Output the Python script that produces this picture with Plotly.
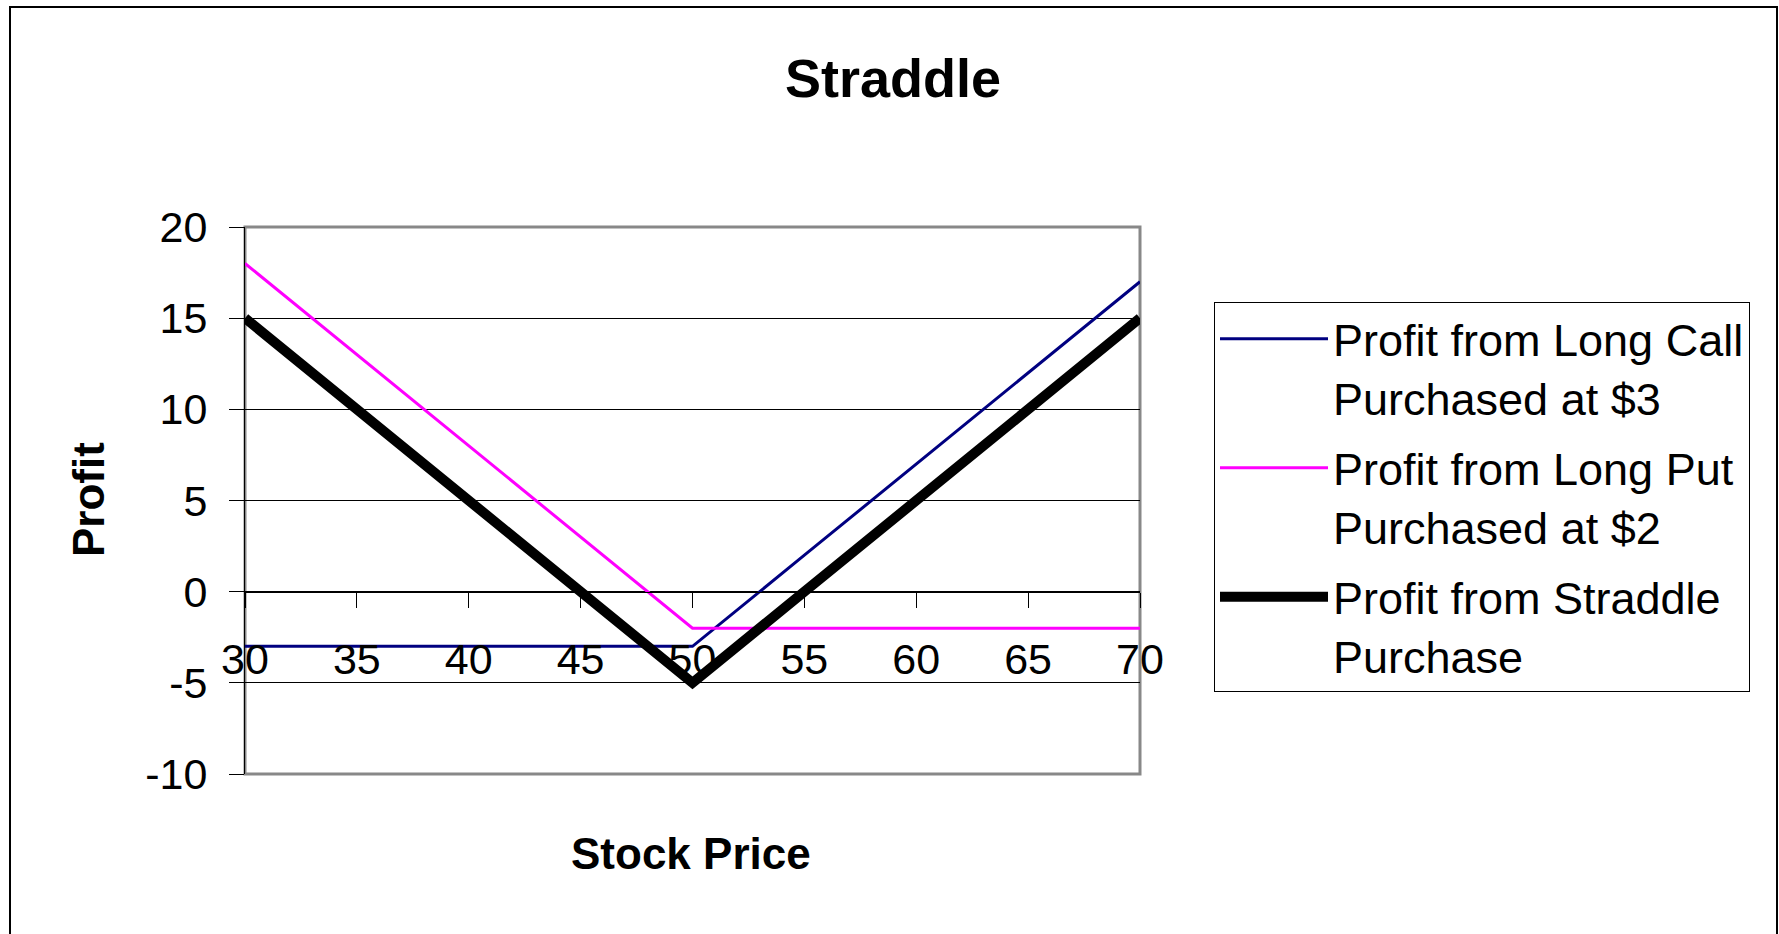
import plotly.graph_objects as go

# Stock prices at expiry and the profit of each position
stock_price = [30, 35, 40, 45, 50, 55, 60, 65, 70]
call_profit = [-3, -3, -3, -3, -3, 2, 7, 12, 17]
put_profit = [18, 13, 8, 3, -2, -2, -2, -2, -2]
straddle_profit = [15, 10, 5, 0, -5, 0, 5, 10, 15]

series_names = [
    "Profit from Long Call<br>Purchased at $3",
    "Profit from Long Put<br>Purchased at $2",
    "Profit from Straddle<br>Purchase",
]

y_ticks = [-10, -5, 0, 5, 10, 15, 20]
y_tick_labels = ["-10", "-5", "0", "5", "10", "15", "20"]
x_ticks = [30, 35, 40, 45, 50, 55, 60, 65, 70]

W, H = 1779, 934
L, R, T, B = 245, 1140, 227, 774  # plot area in pixels
PW, PH = R - L, B - T

def px_x(p):
    return (p - L) / PW

def px_y(p):
    return (B - p) / PH

FONT = "Liberation Sans, Arial, sans-serif"

fig = go.Figure()
fig.add_trace(go.Scatter(x=stock_price, y=call_profit, mode="lines", name=series_names[0],
                         legendgroup="call", line=dict(color="#000080", width=3)))
fig.add_trace(go.Scatter(x=stock_price, y=put_profit, mode="lines", name=series_names[1],
                         legendgroup="put", line=dict(color="#FF00FF", width=3)))
fig.add_trace(go.Scatter(x=stock_price, y=straddle_profit, mode="lines", name=series_names[2],
                         legendgroup="straddle", line=dict(color="#000000", width=10)))

fig.update_layout(
    width=W, height=H,
    margin=dict(l=L, r=W - R, t=T, b=H - B, pad=0),
    paper_bgcolor="white", plot_bgcolor="white",
    font=dict(family=FONT, color="black", size=43),
    title=dict(text="<b>Straddle</b>", x=893 / W, xref="container", xanchor="center",
               y=1 - 78 / H, yref="container", yanchor="middle",
               font=dict(size=54, family=FONT)),
    showlegend=True,
    legend=dict(
        x=px_x(1214), y=px_y(302), xanchor="left", yanchor="top",
        xref="paper", yref="paper",
        bordercolor="black", borderwidth=1, bgcolor="white",
        font=dict(size=45, family=FONT),
        valign="top", tracegroupgap=9, itemwidth=108,
    ),
    xaxis=dict(
        range=[30, 70], tickvals=x_ticks, ticktext=[str(v) for v in x_ticks],
        anchor="free", position=1 / 3,
        showline=True, linecolor="black", linewidth=1,
        ticks="outside", ticklen=15, tickcolor="black", tickwidth=1,
        showgrid=False, zeroline=False,
        tickfont=dict(size=43), ticklabelstandoff=15,
    ),
    yaxis=dict(
        range=[-10, 20], tickvals=y_ticks, ticktext=y_tick_labels,
        showline=True, linecolor="black", linewidth=1,
        ticks="outside", ticklen=15, tickcolor="black", tickwidth=1,
        showgrid=True, gridcolor="black", gridwidth=1,
        zeroline=False, tickfont=dict(size=43), ticklabelstandoff=13,
    ),
    shapes=[
        # outer chart border
        dict(type="rect", xref="paper", yref="paper", layer="below",
             x0=px_x(10), x1=px_x(1777), y0=px_y(950), y1=px_y(7),
             line=dict(color="black", width=2), fillcolor="rgba(0,0,0,0)"),
        # plot area frame
        dict(type="rect", xref="paper", yref="paper", layer="below",
             x0=0, x1=1, y0=0, y1=1,
             line=dict(color="#888888", width=3), fillcolor="rgba(0,0,0,0)"),
    ],
    annotations=[
        dict(text="<b>Stock Price</b>", xref="paper", yref="paper",
             x=px_x(691), y=px_y(853), xanchor="center", yanchor="middle",
             showarrow=False, font=dict(size=44, family=FONT)),
        dict(text="<b>Profit</b>", xref="paper", yref="paper", textangle=-90,
             x=px_x(88), y=px_y(500), xanchor="center", yanchor="middle",
             showarrow=False, font=dict(size=44, family=FONT)),
    ],
)

fig.write_html("out.html", post_script="document.body.style.margin='0';")
